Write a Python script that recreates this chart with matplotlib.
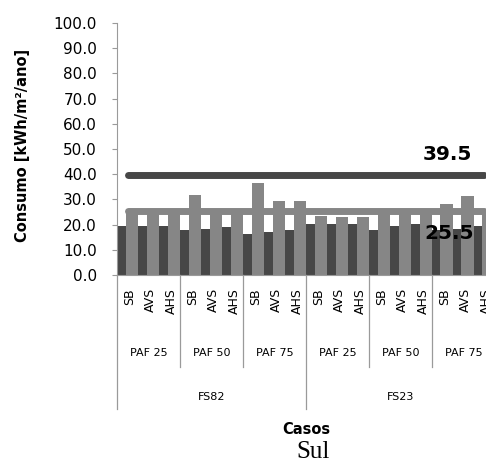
import matplotlib.pyplot as plt
from matplotlib.ticker import FormatStrFormatter

# consumption per case: base (dark) and total (light) series
cases = ["SB", "AVS", "AHS"] * 6
paf_groups = ["PAF 25", "PAF 50", "PAF 75", "PAF 25", "PAF 50", "PAF 75"]
fs_groups = ["FS82", "FS23"]
base = [19.5, 19.5, 19.5, 17.9, 18.3, 19.1, 16.3, 17.1, 17.9,
        20.3, 20.3, 20.3, 17.9, 19.5, 20.3, 17.9, 18.4, 19.5]
total = [25.0, 25.0, 25.0, 31.8, 25.0, 25.0, 36.6, 29.4, 29.4,
         23.4, 23.0, 23.1, 25.0, 25.0, 25.0, 28.2, 31.4, 25.0]
limit_high = 39.5
limit_low = 25.5

DARK = "#474747"
LIGHT = "#868686"
AXIS = "#9a9a9a"

fig = plt.figure(figsize=(4.86, 4.59), dpi=100)
ax = fig.add_axes([117.3 / 486, 184 / 459, 377.5 / 486, 252 / 459])

n = len(cases)
xs = list(range(n))
bw = 0.59
ax.bar([x - 0.5 for x in xs], base, width=bw, align="edge", color=DARK, zorder=2)
ax.bar([x - 0.09 for x in xs], total, width=bw, align="edge", color=LIGHT, zorder=2)

ax.plot([0, n - 1], [limit_high] * 2, color=DARK, lw=5, solid_capstyle="round", zorder=3)
ax.plot([0, n - 1], [limit_low] * 2, color=LIGHT, lw=5, solid_capstyle="round", zorder=3)
ax.annotate(f"{limit_high:.1f}", (n - 1, limit_high), xytext=(-26.5, 14.8),
            textcoords="offset points", ha="center", va="center",
            fontsize=14.5, fontweight="heavy", zorder=5)
ax.annotate(f"{limit_low:.1f}", (n - 1, limit_low), xytext=(-25.5, -16.2),
            textcoords="offset points", ha="center", va="center",
            fontsize=14.5, fontweight="heavy", zorder=5)

ax.set_xlim(-0.5, n - 0.5)
ax.set_ylim(0, 100)
ax.set_yticks(range(0, 101, 10))
ax.yaxis.set_major_formatter(FormatStrFormatter("%.1f"))
ax.tick_params(axis="y", direction="out", length=3.6, width=0.8, color=AXIS,
               pad=11, labelsize=11)
ax.tick_params(axis="x", bottom=False, labelbottom=False)
for side in ("top", "right"):
    ax.spines[side].set_visible(False)
for side in ("left", "bottom"):
    ax.spines[side].set_color(AXIS)
    ax.spines[side].set_zorder(4)

ax.set_ylabel("Consumo [kWh/m²/ano]", fontsize=10.5, fontweight="bold")
ax.yaxis.set_label_coords(-0.231, 0.514)

# multi-level category axis
tr = ax.get_xaxis_transform()
for x, lab in zip(xs, cases):
    ax.text(x + 0.1, -0.0516, lab, rotation=90, ha="center", va="top", fontsize=9,
            transform=tr, clip_on=False)
for i, lab in enumerate(paf_groups):
    ax.text(3 * i + 1, -0.311, lab, ha="center", va="center", fontsize=8,
            transform=tr, clip_on=False)
for i, lab in enumerate(fs_groups):
    ax.text(9 * i + 4, -0.483, lab, ha="center", va="center", fontsize=8,
            transform=tr, clip_on=False)
for b in range(0, n + 1, 3):
    bottom = -0.532 if b % 9 == 0 else -0.365
    ax.plot([b - 0.5] * 2, [0, bottom], color=AXIS, lw=0.9, transform=tr,
            clip_on=False)

ax.text(0.5, -0.615, "Casos", ha="center", va="center", fontsize=10.5,
        fontweight="bold", transform=ax.transAxes)
fig.text(313 / 486, 1 / 459, "Sul", ha="center", va="baseline", fontsize=18,
         family="Liberation Serif")

fig.savefig("out.png", dpi=100)
